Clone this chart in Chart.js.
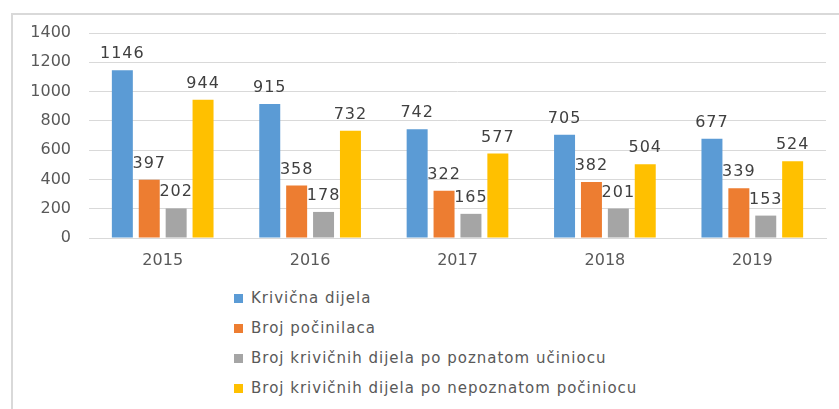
<!DOCTYPE html>
<html>
<head>
<meta charset="utf-8">
<script src="https://cdn.jsdelivr.net/npm/chart.js@4"></script>
<style>
  body { margin: 0; background: #fff; font-family: "DejaVu Sans", sans-serif; }
  #wrap { position: relative; width: 839px; height: 409px; overflow: hidden; }
  #frame { position: absolute; left: 11px; top: 13px; width: 840px; height: 400px;
           border-left: 2px solid #d9d9d9; border-top: 2px solid #d9d9d9; }
  #chart { position: absolute; left: 0; top: 0; }
  #legend { position: absolute; left: 234px; top: 283px; }
  .item { height: 30px; display: flex; align-items: center; color: #595959;
          font-size: 15px; letter-spacing: 1px; }
  .box { width: 9px; height: 9px; margin-right: 8px; }
</style>
</head>
<body>
<div id="wrap">
  <div id="frame"></div>
  <canvas id="chart" width="839" height="280"></canvas>
  <div id="legend"></div>
</div>
<script>
// podaci
const years = ['2015', '2016', '2017', '2018', '2019'];
const seriesNames = [
    'Krivična dijela',
    'Broj počinilaca',
    'Broj krivičnih dijela po poznatom učiniocu',
    'Broj krivičnih dijela po nepoznatom počiniocu'
];
const krivicnaDijela = [1146, 915, 742, 705, 677];
const brojPocinilaca = [397, 358, 322, 382, 339];
const poznatUcinilac = [202, 178, 165, 201, 153];
const nepoznatPocinilac = [944, 732, 577, 504, 524];
const seriesColors = ['#5B9BD5', '#ED7D31', '#A5A5A5', '#FFC000'];
const yTicks = [0, 200, 400, 600, 800, 1000, 1200, 1400];

const seriesData = [krivicnaDijela, brojPocinilaca, poznatUcinilac, nepoznatPocinilac];

// oznake vrijednosti iznad stubaca
const valueLabels = {
    id: 'valueLabels',
    afterDatasetsDraw(chart) {
        const ctx = chart.ctx;
        ctx.save();
        ctx.font = '16px "DejaVu Sans"';
        ctx.letterSpacing = '1px';
        ctx.fillStyle = '#404040';
        ctx.textAlign = 'center';
        ctx.textBaseline = 'alphabetic';
        chart.data.datasets.forEach((ds, i) => {
            chart.getDatasetMeta(i).data.forEach((bar, j) => {
                ctx.fillText(ds.data[j], bar.x, bar.y - 12);
            });
        });
        ctx.restore();
    }
};

new Chart(document.getElementById('chart'), {
    type: 'bar',
    data: {
        labels: years,
        datasets: seriesNames.map((name, i) => ({
            label: name,
            data: seriesData[i],
            backgroundColor: seriesColors[i],
            categoryPercentage: 0.73,
            barPercentage: 0.78
        }))
    },
    options: {
        responsive: false,
        animation: false,
        layout: { padding: { top: 33, right: 13, left: 0, bottom: 0 } },
        plugins: { legend: { display: false }, tooltip: { enabled: false } },
        scales: {
            x: {
                grid: { display: false },
                border: { color: '#d9d9d9' },
                ticks: { color: '#595959', font: { family: 'DejaVu Sans', size: 16 }, padding: 5 },
                afterFit: (scale) => { scale.height = 42; }
            },
            y: {
                min: 0,
                max: 1400,
                afterBuildTicks: (scale) => { scale.ticks = yTicks.map(v => ({ value: v })); },
                grid: { color: '#d9d9d9', drawTicks: false },
                border: { display: false },
                ticks: {
                    color: '#595959',
                    font: { family: 'DejaVu Sans', size: 16 },
                    padding: 18,
                    callback: (v) => String(v)
                },
                afterFit: (scale) => { scale.width = 89; }
            }
        }
    },
    plugins: [valueLabels]
});

// legenda
document.getElementById('legend').innerHTML = seriesNames.map((name, i) => `
    <div class="item"><span class="box" style="background:${seriesColors[i]}"></span>${name}</div>
`).join('');
</script>
</body>
</html>
